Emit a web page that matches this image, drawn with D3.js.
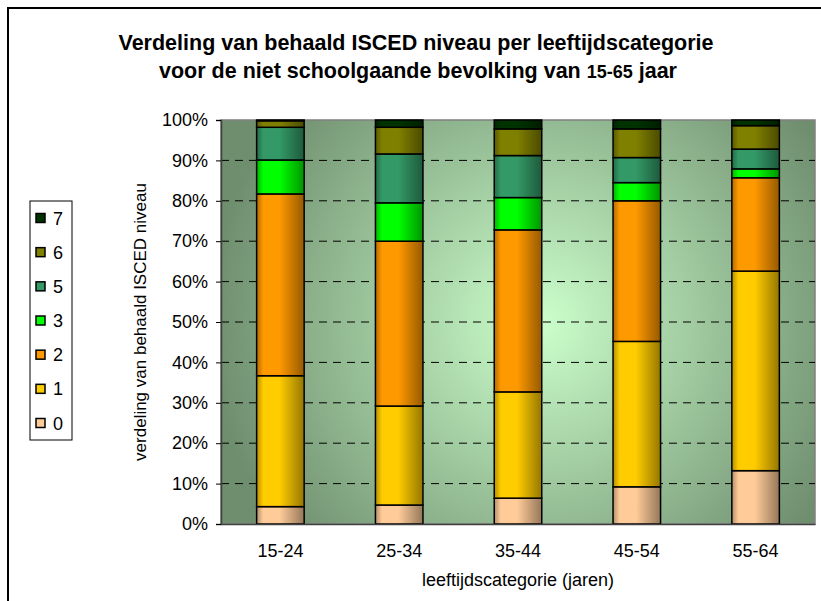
<!DOCTYPE html>
<html>
<head>
<meta charset="utf-8">
<script src="https://cdn.jsdelivr.net/npm/d3@7"></script>
<style>
  html, body { margin: 0; padding: 0; background: #fff; }
  svg { display: block; font-family: Arial, "Liberation Sans", sans-serif; }
</style>
</head>
<body>
<svg id="chart" width="821" height="601"></svg>
<script>
// ---- data ----
const categories = ["15-24", "25-34", "35-44", "45-54", "55-64"];
const levels = ["0", "1", "2", "3", "5", "6", "7"];
const level0 = [4.3, 4.7, 6.4, 9.2, 13.2];
const level1 = [32.4, 24.5, 26.3, 36.0, 49.4];
const level2 = [45.0, 40.8, 40.1, 34.8, 23.1];
const level3 = [8.4, 9.5, 8.0, 4.5, 2.2];
const level5 = [8.1, 12.1, 10.4, 6.2, 4.9];
const level6 = [1.6, 6.6, 6.6, 7.1, 5.8];
const level7 = [0.2, 1.8, 2.2, 2.2, 1.4];
const yTicks = [0, 10, 20, 30, 40, 50, 60, 70, 80, 90, 100];
const colors = ["#FFCC99", "#FFCC00", "#FF9900", "#00FF00", "#339966", "#808000", "#003300"];

const seriesValues = [level0, level1, level2, level3, level5, level6, level7];
const table = categories.map((c, i) => {
  const row = { cat: c };
  levels.forEach((l, j) => row[l] = seriesValues[j][i]);
  return row;
});
const stacked = d3.stack().keys(levels)(table);

// ---- layout ----
const svg = d3.select("#chart");
const plot = { left: 221, right: 815, top: 120, bottom: 524 };

const x = d3.scaleBand().domain(categories).range([plot.left, plot.right]).paddingInner(0.6).paddingOuter(0.3);
const y = d3.scaleLinear().domain([0, 100]).range([plot.bottom, plot.top]);

const defs = svg.append("defs");
const bg = defs.append("radialGradient").attr("id", "bg")
  .attr("gradientUnits", "userSpaceOnUse")
  .attr("cx", 540).attr("cy", 322).attr("r", 330);
bg.append("stop").attr("offset", "0%").attr("stop-color", "#CCFFCC");
bg.append("stop").attr("offset", "100%").attr("stop-color", "#6F8E6E");

colors.forEach((c, i) => {
  const g = defs.append("linearGradient").attr("id", "bar" + i)
    .attr("x1", "0%").attr("x2", "100%").attr("y1", "0%").attr("y2", "0%");
  const base = d3.color(c);
  g.append("stop").attr("offset", "0%").attr("stop-color", base.darker(1.0));
  g.append("stop").attr("offset", "14%").attr("stop-color", base);
  g.append("stop").attr("offset", "48%").attr("stop-color", base);
  g.append("stop").attr("offset", "100%").attr("stop-color", base.darker(1.5));
});

// outer frame
svg.append("rect").attr("x", 8).attr("y", 8).attr("width", 900).attr("height", 700)
  .attr("fill", "#fff").attr("stroke", "#000").attr("stroke-width", 2);

// plot background
svg.append("rect")
  .attr("x", plot.left).attr("y", plot.top)
  .attr("width", plot.right - plot.left).attr("height", plot.bottom - plot.top)
  .attr("fill", "url(#bg)").attr("stroke", "#808080").attr("stroke-width", 1.5);

// grid lines
svg.append("g").selectAll("line").data(yTicks.filter(t => t > 0 && t < 100)).join("line")
  .attr("x1", plot.left).attr("x2", plot.right)
  .attr("y1", d => y(d)).attr("y2", d => y(d))
  .attr("stroke", "#000").attr("stroke-width", 1)
  .attr("stroke-dasharray", "8,6");

// bars
svg.append("g").selectAll("g").data(stacked).join("g")
  .attr("fill", (d, i) => "url(#bar" + i + ")")
  .selectAll("rect").data(d => d).join("rect")
  .attr("x", d => x(d.data.cat))
  .attr("width", x.bandwidth())
  .attr("y", d => y(d[1]))
  .attr("height", d => y(d[0]) - y(d[1]))
  .attr("stroke", "#000").attr("stroke-width", 1.5);

// axes
const yAxis = svg.append("g").attr("transform", `translate(${plot.left},0)`)
  .call(d3.axisLeft(y).tickValues(yTicks).tickFormat(d => d + "%").tickSize(5).tickPadding(8));
yAxis.select(".domain").attr("stroke", "#404040").attr("stroke-width", 1.5);
yAxis.selectAll("text").attr("font-size", 18).attr("fill", "#000")
  .attr("font-family", "Arial, 'Liberation Sans', sans-serif");

const xAxis = svg.append("g").attr("transform", `translate(0,${plot.bottom})`)
  .call(d3.axisBottom(x).tickSize(0).tickPadding(20));
xAxis.select(".domain").attr("stroke", "#404040").attr("stroke-width", 1.5);
xAxis.selectAll("text").attr("font-size", 18).attr("fill", "#000")
  .attr("font-family", "Arial, 'Liberation Sans', sans-serif");

// axis titles
svg.append("text").attr("x", 518).attr("y", 586).attr("text-anchor", "middle")
  .attr("font-size", 18).text("leeftijdscategorie (jaren)");
svg.append("text").attr("transform", `translate(146,${(plot.top + plot.bottom) / 2}) rotate(-90)`)
  .attr("text-anchor", "middle").attr("font-size", 17)
  .text("verdeling van behaald ISCED niveau");

// title
const title = svg.append("text").attr("text-anchor", "middle").attr("font-weight", "bold").attr("font-size", 21.5);
title.append("tspan").attr("x", 416).attr("y", 50).text("Verdeling van behaald ISCED niveau per leeftijdscategorie");
const t2 = title.append("tspan").attr("x", 418).attr("y", 78);
t2.append("tspan").text("voor de niet schoolgaande bevolking van ");
t2.append("tspan").attr("font-size", 18).text("15-65");
t2.append("tspan").text(" jaar");

// legend
const legend = svg.append("g");
legend.append("rect").attr("x", 30).attr("y", 201).attr("width", 42).attr("height", 239)
  .attr("fill", "#fff").attr("stroke", "#000").attr("stroke-width", 1);
const legendItems = levels.slice().reverse();
const ly = d3.scalePoint().domain(legendItems).range([218, 423]);
const li = legend.selectAll("g.item").data(legendItems).join("g").attr("class", "item")
  .attr("transform", d => `translate(36,${ly(d)})`);
li.append("rect").attr("x", 0).attr("y", -4.5).attr("width", 9).attr("height", 9)
  .attr("fill", d => colors[levels.indexOf(d)]).attr("stroke", "#000").attr("stroke-width", 1.5);
li.append("text").attr("x", 17).attr("y", 6.5).attr("font-size", 18).text(d => d);
</script>
</body>
</html>
